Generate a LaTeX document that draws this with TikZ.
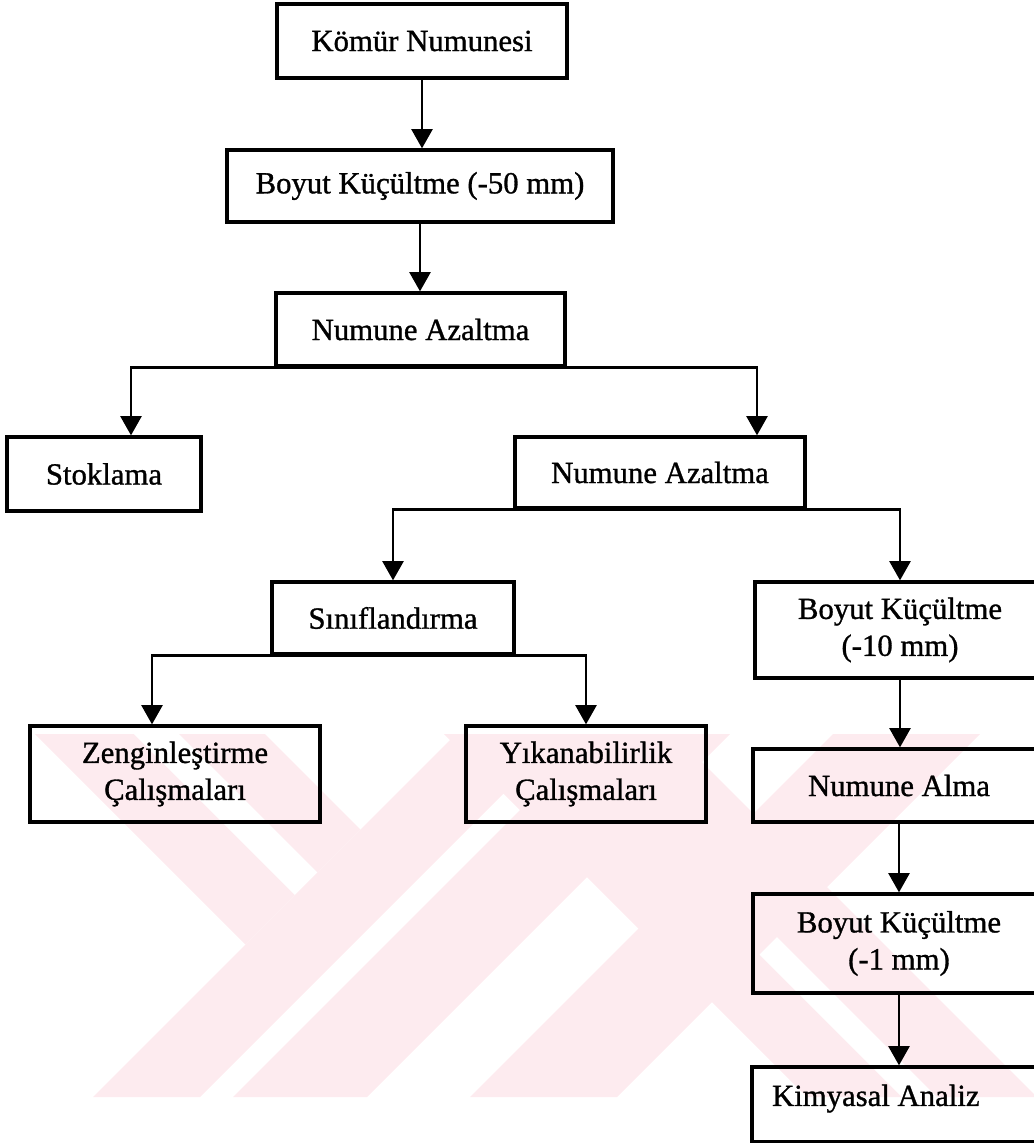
\documentclass[tikz,border=0pt]{standalone}
\usepackage{fontspec}
\setmainfont{Liberation Serif}[FakeBold=1]
\usetikzlibrary{arrows.meta,calc}

\definecolor{wmark}{RGB}{253,235,239}

\tikzset{
  box/.style={draw, line width=1.9pt, align=center, inner sep=2pt,
    font=\fontsize{17.5}{21}\selectfont},
  arr/.style={line width=1.5pt, -{Triangle[width=12pt,length=11pt]}},
}

\begin{document}
\begin{tikzpicture}[x=0.02cm,y=-0.02cm]
    \useasboundingbox (0,0) rectangle (1034,1143);
    \clip (0,0) rectangle (1034,1143);

    % faint watermark behind the chart
    \begin{scope}
        \clip (0,734) rectangle (1034,1097);
        \fill[wmark] (35,734) -- (265,734) -- (360.5,829.5) -- (245.5,944.5) -- cycle;
        \fill[white] (134,734) -- (179,734) -- (317.5,872.5) -- (295,895) -- cycle;
        \fill[wmark] (456,734) -- (563,734) -- (200,1097) -- (93,1097) -- cycle;
        \fill[wmark] (596,734) -- (730,734) -- (367,1097) -- (233,1097) -- cycle;
        \fill[wmark] (833,734) -- (980,734) -- (617,1097) -- (470,1097) -- cycle;
        \fill[wmark] (444,734) -- (674,734) -- (1037,1097) -- (807,1097) -- cycle;
        \fill[white] (759.5,954.5) -- (777,937) -- (937,1097) -- (902,1097) -- cycle;
    \end{scope}

    \node[box, minimum width=5.8cm, minimum height=1.48cm] (komur) at (422,41) {Kömür Numunesi};
    \node[box, minimum width=7.72cm, minimum height=1.44cm] (boyut50) at (420,186) {Boyut Küçültme (-50 mm)};
    \node[box, minimum width=5.78cm, minimum height=1.46cm] (azalt1) at (420.5,329.5) {Numune Azaltma};

    \node[box, minimum width=3.88cm, minimum height=1.48cm] (stok) at (104,474) {Stoklama};
    \node[box, minimum width=5.8cm, minimum height=1.42cm] (azalt2) at (660,472.5) {Numune Azaltma};

    \node[box, minimum width=4.84cm, minimum height=1.44cm] (sinif) at (393,618) {Sınıflandırma};
    \node[box, minimum width=5.8cm, minimum height=1.92cm] (boyut10) at (900,630) {Boyut Küçültme\\(-10 mm)};

    \node[box, minimum width=5.8cm, minimum height=1.92cm] (zengin) at (175,774) {Zenginleştirme\\Çalışmaları};
    \node[box, minimum width=4.8cm, minimum height=1.92cm] (yikana) at (586,774) {Yıkanabilirlik\\Çalışmaları};

    \node[box, minimum width=5.84cm, minimum height=1.46cm] (alma) at (899,785.5) {Numune Alma};
    \node[box, minimum width=5.84cm, minimum height=1.98cm] (boyut1) at (899,943.5) {Boyut Küçültme\\(-1 mm)};
    \node[box, minimum width=5.86cm, minimum height=1.5cm, text depth=10.5pt]
      (kimya) at (898.5,1104.5) {\makebox[5.06cm][l]{Kimyasal Analiz}};

    \draw[arr] (komur.south) -- (komur.south |- boyut50.north);
    \draw[arr] (boyut50.south) -- (boyut50.south |- azalt1.north);
    \draw[arr] (azalt1.south) -| ($(stok.north)+(27,0)$);
    \draw[arr] (azalt1.south) -| ($(azalt2.north)+(97,0)$);
    \draw[arr] (azalt2.south) -| (sinif.north);
    \draw[arr] (azalt2.south) -| (boyut10.north);
    \draw[arr] (sinif.south) -| ($(zengin.north)+(-23,0)$);
    \draw[arr] (sinif.south) -| (yikana.north);
    \draw[arr] (boyut10.south) -- (boyut10.south |- alma.north);
    \draw[arr] (alma.south) -- (alma.south |- boyut1.north);
    \draw[arr] (boyut1.south) -- (boyut1.south |- kimya.north);
\end{tikzpicture}
\end{document}
